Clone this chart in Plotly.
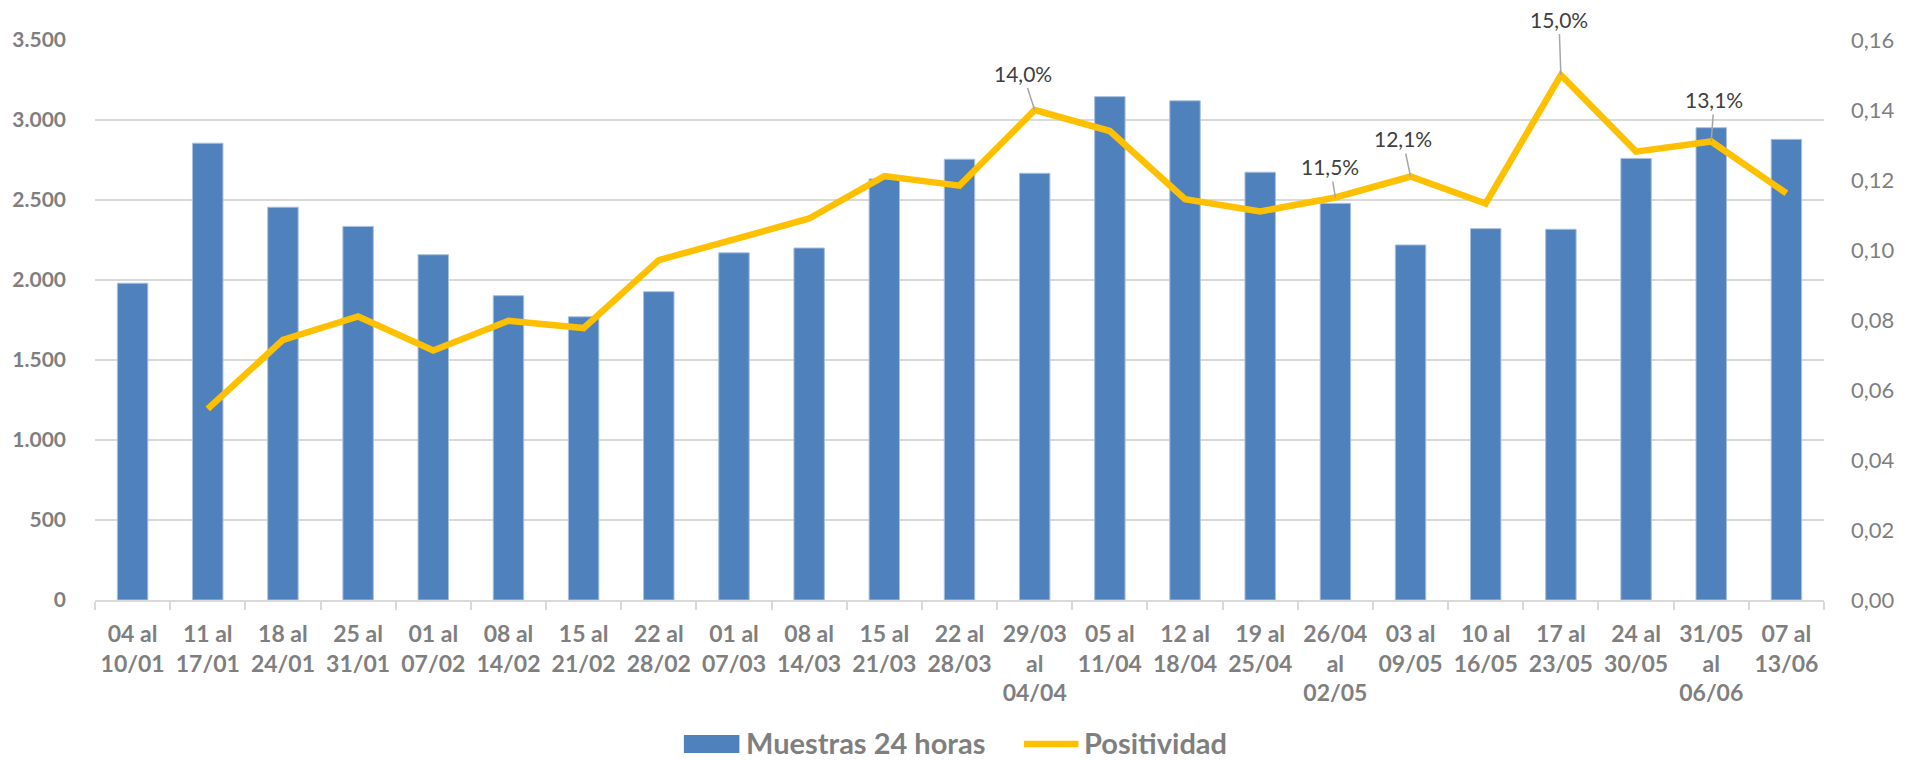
import plotly.graph_objects as go

categories = ["04 al<br>10/01", "11 al<br>17/01", "18 al<br>24/01", "25 al<br>31/01",
              "01 al<br>07/02", "08 al<br>14/02", "15 al<br>21/02", "22 al<br>28/02",
              "01 al<br>07/03", "08 al<br>14/03", "15 al<br>21/03", "22 al<br>28/03",
              "29/03<br>al<br>04/04", "05 al<br>11/04", "12 al<br>18/04", "19 al<br>25/04",
              "26/04<br>al<br>02/05", "03 al<br>09/05", "10 al<br>16/05", "17 al<br>23/05",
              "24 al<br>30/05", "31/05<br>al<br>06/06", "07 al<br>13/06"]

muestras = [1980, 2855, 2455, 2335, 2158, 1902, 1770, 1927, 2170, 2200, 2632, 2755,
            2667, 3146, 3120, 2674, 2479, 2219, 2321, 2317, 2760, 2952, 2879]

positividad = [None, 0.0546, 0.0743, 0.0810, 0.0713, 0.0798, 0.0777, 0.0971, 0.1030,
               0.1090, 0.1211, 0.1184, 0.1400, 0.1340, 0.1145, 0.1110, 0.1150, 0.1210,
               0.1133, 0.1500, 0.1281, 0.1310, 0.1162]

etiquetas = {12: "14,0%", 16: "11,5%", 17: "12,1%", 19: "15,0%", 21: "13,1%"}

# label offsets (style)
offsets = {12: (-12, -37), 16: (-5, -31), 17: (-8, -38), 19: (-2, -56), 21: (3, -42)}

FONT = "Lato, 'Open Sans', sans-serif"
GRAY = "#7F7F7F"
BLUE = "#4F81BD"
GOLD = "#FFC000"

W, H = 1907, 760
PL, PR, PT, PB = 94, 1838, 40, 600
PW, PH = PR - PL, PB - PT


def px(xp):
    return (xp - PL) / PW


def py(yp):
    return (PB - yp) / PH


fig = go.Figure()
fig.add_trace(go.Bar(x=categories, y=muestras, name="Muestras 24 horas",
                     marker=dict(color=BLUE, line=dict(color="#A9C0DF", width=1)),
                     yaxis="y"))
fig.add_trace(go.Scatter(x=categories, y=positividad, name="Positividad", mode="lines",
                         line=dict(color=GOLD, width=6.5), connectgaps=False,
                         yaxis="y2"))

for i, txt in etiquetas.items():
    ax, ay = offsets[i]
    fig.add_annotation(x=categories[i], y=positividad[i], yref="y2", text=txt,
                       showarrow=True, arrowhead=0, arrowwidth=1.5, arrowcolor="#A6A6A6",
                       ax=ax, ay=ay, standoff=0, borderpad=2,
                       font=dict(family=FONT, size=21, color="#404040"))

# manual legend
fig.add_shape(type="rect", xref="paper", yref="paper",
              x0=px(688), x1=px(744), y0=py(735), y1=py(753),
              fillcolor=BLUE, line=dict(width=0))
fig.add_annotation(xref="paper", yref="paper", x=px(749), y=py(742),
                   xanchor="left", yanchor="middle", showarrow=False,
                   text="<b>Muestras 24 horas</b>",
                   font=dict(family=FONT, size=29, color=GRAY))
fig.add_shape(type="line", xref="paper", yref="paper",
              x0=px(1031), x1=px(1086), y0=py(744), y1=py(744),
              line=dict(color=GOLD, width=6.5))
fig.add_annotation(xref="paper", yref="paper", x=px(1090), y=py(742),
                   xanchor="left", yanchor="middle", showarrow=False,
                   text="<b>Positividad</b>",
                   font=dict(family=FONT, size=29, color=GRAY))

fig.update_layout(
    width=W, height=H,
    margin=dict(l=PL, r=W - PR, t=PT, b=H - PB),
    paper_bgcolor="white", plot_bgcolor="white",
    separators=",.",
    showlegend=False,
    bargap=0.595,
    font=dict(family=FONT, color=GRAY),
    xaxis=dict(type="category", showgrid=False, showline=True, linecolor="#D9D9D9",
               linewidth=2, ticks="outside", tickson="boundaries", ticklen=8,
               tickcolor="#D9D9D9", tickwidth=2, tickangle=0, ticklabelstandoff=12,
               tickfont=dict(family=FONT, size=23, color=GRAY, weight="bold")),
    yaxis=dict(range=[0, 3500], dtick=500, tickformat=",d", showgrid=True,
               gridcolor="#D9D9D9", gridwidth=2, zeroline=False, showline=False,
               ticklabelstandoff=28,
               tickfont=dict(family=FONT, size=21, color=GRAY, weight="bold")),
    yaxis2=dict(range=[0, 0.16], dtick=0.02, tickformat=".2f", overlaying="y",
                side="right", showgrid=False, zeroline=False, showline=False,
                ticklabelstandoff=26,
                tickfont=dict(family=FONT, size=22, color=GRAY)),
)

fig.write_html("out.html", config={"displayModeBar": False},
               post_script="document.body.style.margin='0px';"
                           "document.body.style.overflow='hidden';")
